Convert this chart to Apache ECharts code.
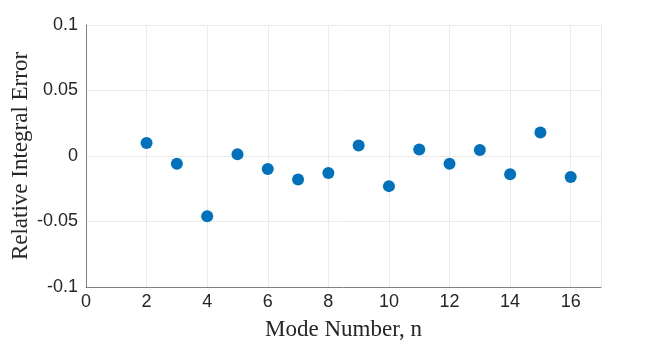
<!DOCTYPE html>
<html>
<head>
<meta charset="utf-8">
<script src="https://cdn.jsdelivr.net/npm/echarts@6/dist/echarts.min.js"></script>
<style>
  html, body { margin: 0; padding: 0; background: #fff; }
  #chart { width: 664px; height: 343px; }
</style>
</head>
<body>
<div id="chart"></div>
<script>
// mode numbers and their relative integral error
const modes = [2, 3, 4, 5, 6, 7, 8, 9, 10, 11, 12, 13, 14, 15, 16];
const errors = [0.010, -0.006, -0.046, 0.0013, -0.010, -0.018, -0.013, 0.008, -0.023, 0.005, -0.006, 0.0045, -0.014, 0.018, -0.016];
const yTicks = ['-0.1', '-0.05', '0', '0.05', '0.1'];

const chart = echarts.init(document.getElementById('chart'));
const tickFont = { fontFamily: 'Liberation Sans, Arial, sans-serif', fontSize: 18, color: '#262626' };
const labelFont = { fontFamily: 'Liberation Serif, DejaVu Serif, serif', fontSize: 23, color: '#262626' };

chart.setOption({
  animation: false,
  grid: { left: 86, right: 63, top: 25, bottom: 56, outerBoundsMode: 'none' },
  xAxis: {
    type: 'value',
    min: 0,
    max: 17,
    interval: 2,
    name: 'Mode Number, n',
    nameLocation: 'middle',
    nameGap: 31,
    nameMoveOverlap: false,
    nameTextStyle: labelFont,
    axisLine: { onZero: false, lineStyle: { color: '#808080', width: 1 } },
    axisTick: { show: false },
    axisLabel: Object.assign({ margin: 6, showMaxLabel: false }, tickFont),
    splitLine: { lineStyle: { color: '#ebebeb', width: 1 } }
  },
  yAxis: {
    type: 'value',
    min: -0.1,
    max: 0.1,
    interval: 0.05,
    name: 'Relative Integral Error',
    nameLocation: 'middle',
    nameGap: 54,
    nameMoveOverlap: false,
    nameTextStyle: labelFont,
    axisLine: { show: true, onZero: false, lineStyle: { color: '#808080', width: 1 } },
    axisTick: { show: false },
    axisLabel: Object.assign({
      margin: 8,
      formatter: v => yTicks[Math.round((v + 0.1) / 0.05)]
    }, tickFont),
    splitLine: { lineStyle: { color: '#ebebeb', width: 1 } }
  },
  series: [{
    type: 'scatter',
    symbol: 'circle',
    symbolSize: 12,
    itemStyle: { color: '#0072BD', opacity: 1 },
    data: modes.map((m, i) => [m, errors[i]])
  }]
});
</script>
</body>
</html>
